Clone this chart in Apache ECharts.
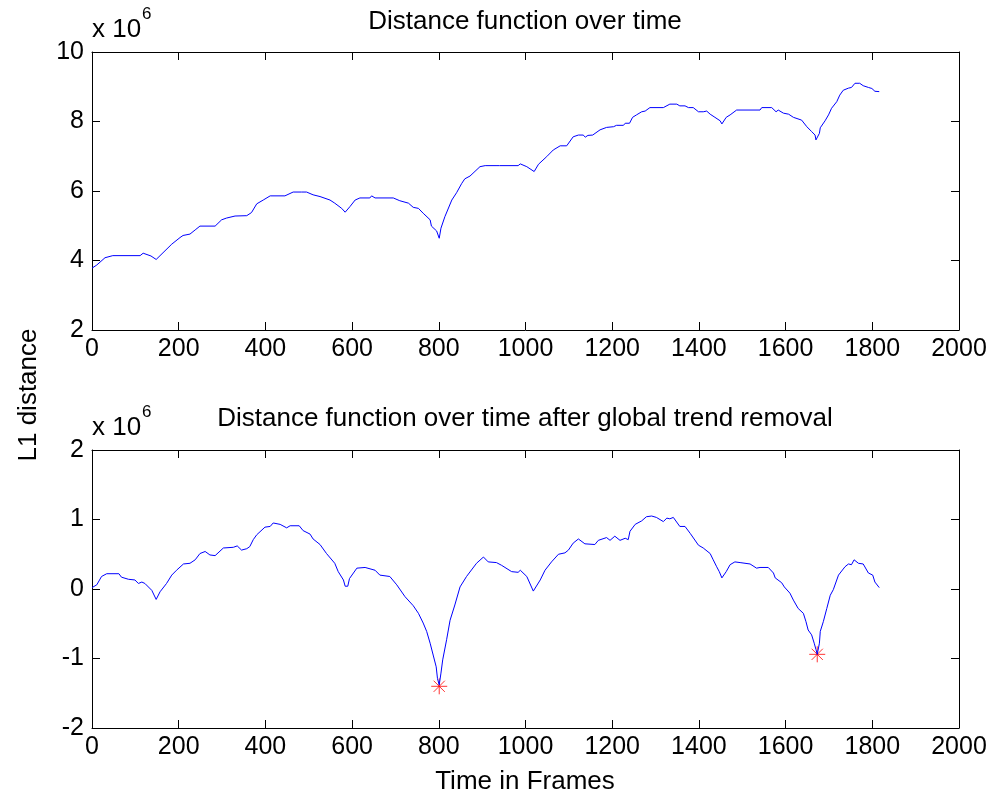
<!DOCTYPE html>
<html>
<head>
<meta charset="utf-8">
<title>Distance function</title>
<script src="https://cdn.jsdelivr.net/npm/echarts@6.0.0/dist/echarts.min.js"></script>
<style>
  html, body { margin: 0; padding: 0; background: #fff; }
  #container { width: 999px; height: 795px; }
</style>
</head>
<body>
<div id="container"></div>
<script>
// values in units of 10^6
var xTicks = [0, 200, 400, 600, 800, 1000, 1200, 1400, 1600, 1800, 2000];
var topYTicks = [2, 4, 6, 8, 10];
var bottomYTicks = [-2, -1, 0, 1, 2];

var topFrames = [0,11,30,48,111,118,136,148,184,203,210,226,238,249,284,299,310,330,357,368,380,395,411,445,464,483,487,495,510,526,549,560,576,584,595,607,618,641,645,653,695,710,730,741,753,764,780,783,795,801,805,814,830,841,853,860,872,895,907,932,935,940,983,988,1003,1020,1030,1049,1064,1080,1095,1110,1122,1133,1138,1144,1155,1172,1187,1203,1210,1226,1230,1240,1247,1256,1268,1276,1287,1318,1333,1349,1356,1368,1376,1387,1399,1410,1418,1426,1437,1449,1453,1463,1472,1487,1541,1545,1568,1578,1583,1595,1607,1618,1637,1649,1660,1668,1670,1678,1680,1691,1699,1706,1718,1725,1733,1745,1752,1760,1771,1779,1791,1799,1806,1816];
var topDist = [3.78,3.87,4.08,4.14,4.14,4.21,4.13,4.03,4.47,4.66,4.72,4.76,4.88,4.99,4.99,5.17,5.22,5.28,5.29,5.38,5.63,5.74,5.86,5.86,5.97,5.97,5.94,5.97,5.89,5.84,5.74,5.65,5.50,5.39,5.55,5.74,5.80,5.80,5.86,5.80,5.80,5.72,5.65,5.53,5.50,5.36,5.17,4.99,4.85,4.64,4.93,5.26,5.74,5.95,6.22,6.35,6.43,6.70,6.73,6.73,6.77,6.73,6.73,6.78,6.70,6.56,6.77,6.99,7.18,7.30,7.30,7.56,7.61,7.61,7.55,7.60,7.61,7.76,7.83,7.85,7.89,7.89,7.95,7.95,8.12,8.19,8.28,8.30,8.40,8.40,8.50,8.50,8.45,8.45,8.40,8.40,8.28,8.28,8.30,8.21,8.12,8.02,7.93,8.12,8.19,8.33,8.33,8.40,8.40,8.28,8.33,8.24,8.21,8.12,8.04,7.85,7.71,7.61,7.47,7.66,7.82,8.02,8.19,8.38,8.57,8.76,8.90,8.96,8.98,9.10,9.10,9.03,8.98,8.95,8.87,8.86];

var bottomFrames = [0,11,22,34,62,68,84,99,107,115,122,138,148,157,172,184,195,211,226,238,249,261,272,284,303,326,330,335,345,357,364,372,380,399,411,418,434,449,457,478,487,503,510,526,541,560,568,580,584,590,594,611,630,653,664,687,703,722,741,753,764,772,780,787,794,797,801,805,809,818,826,837,849,864,887,903,914,933,945,968,983,988,1003,1018,1034,1045,1060,1076,1091,1099,1110,1122,1137,1160,1168,1187,1195,1206,1218,1230,1237,1241,1253,1268,1279,1291,1302,1318,1326,1333,1341,1356,1368,1380,1399,1410,1426,1433,1441,1447,1453,1463,1472,1483,1495,1518,1533,1541,1560,1572,1576,1591,1597,1610,1618,1629,1641,1647,1652,1660,1666,1670,1673,1678,1680,1687,1695,1703,1710,1722,1737,1745,1752,1758,1768,1779,1791,1801,1806,1816];
var bottomDist = [0.02,0.06,0.18,0.22,0.22,0.17,0.14,0.13,0.08,0.10,0.08,-0.02,-0.15,-0.04,0.08,0.20,0.27,0.36,0.37,0.42,0.51,0.54,0.49,0.48,0.59,0.60,0.58,0.62,0.56,0.58,0.61,0.71,0.78,0.89,0.90,0.95,0.93,0.88,0.91,0.91,0.84,0.79,0.72,0.64,0.51,0.37,0.25,0.13,0.04,0.04,0.15,0.30,0.31,0.27,0.20,0.18,0.06,-0.11,-0.24,-0.35,-0.49,-0.61,-0.78,-0.95,-1.12,-1.29,-1.38,-1.21,-1.02,-0.73,-0.45,-0.23,0.03,0.18,0.37,0.46,0.39,0.38,0.34,0.25,0.24,0.27,0.18,-0.03,0.13,0.27,0.39,0.50,0.52,0.56,0.66,0.72,0.65,0.64,0.70,0.74,0.70,0.76,0.70,0.73,0.71,0.83,0.93,0.98,1.04,1.05,1.03,0.97,1.02,1.01,1.03,0.90,0.90,0.80,0.63,0.59,0.51,0.42,0.32,0.25,0.16,0.25,0.35,0.39,0.38,0.36,0.30,0.31,0.31,0.23,0.16,0.09,0.03,-0.06,-0.16,-0.28,-0.35,-0.47,-0.59,-0.66,-0.78,-0.87,-0.94,-0.78,-0.61,-0.47,-0.28,-0.09,-0.01,0.20,0.32,0.36,0.35,0.42,0.37,0.36,0.23,0.20,0.10,0.02];

var minFrames = [801, 1673];
var minDist = [-1.40, -0.94];

function zip(a, b) {
    var out = [];
    for (var i = 0; i < a.length; i++) out.push([a[i], b[i]]);
    return out;
}

var font = 'Liberation Sans, Arial, sans-serif';
var fs = 25;   // tick labels
var tfs = 26;  // titles / axis names
var star = 'path://M0,-10L0,10M-10,0L10,0M-7,-7L7,7M-7,7L7,-7';

function plain(v) { return String(v); }

function xAx(gi, pos, labels) {
    return {
        type: 'value', gridIndex: gi, position: pos,
        min: xTicks[0], max: xTicks[xTicks.length - 1], interval: xTicks[1] - xTicks[0],
        axisLine: { show: true, onZero: false, lineStyle: { color: '#000', width: 1 } },
        axisTick: { show: true, inside: true, length: 8, lineStyle: { color: '#000', width: 1 } },
        splitLine: { show: false },
        axisLabel: { show: labels, color: '#000', fontSize: fs, fontFamily: font, margin: 7, formatter: plain }
    };
}
function yAx(gi, pos, labels, ticks) {
    return {
        type: 'value', gridIndex: gi, position: pos,
        min: ticks[0], max: ticks[ticks.length - 1], interval: ticks[1] - ticks[0],
        axisLine: { show: true, onZero: false, lineStyle: { color: '#000', width: 1 } },
        axisTick: { show: true, inside: true, length: 8, lineStyle: { color: '#000', width: 1 } },
        splitLine: { show: false },
        axisLabel: { show: labels, color: '#000', fontSize: fs, fontFamily: font, margin: 8, formatter: plain }
    };
}

var dom = document.getElementById('container');
var myChart = echarts.init(dom, null, { renderer: 'canvas' });

var option = {
    backgroundColor: '#fff',
    animation: false,
    grid: [
        { left: 92, top: 52, width: 867, height: 278 },
        { left: 92, top: 450, width: 867, height: 278 }
    ],
    xAxis: [xAx(0, 'bottom', true), xAx(0, 'top', false), xAx(1, 'bottom', true), xAx(1, 'top', false)],
    yAxis: [yAx(0, 'left', true, topYTicks), yAx(0, 'right', false, topYTicks),
            yAx(1, 'left', true, bottomYTicks), yAx(1, 'right', false, bottomYTicks)],
    series: [
        {
            type: 'line', xAxisIndex: 0, yAxisIndex: 0, data: zip(topFrames, topDist),
            showSymbol: false, lineStyle: { color: '#0000ff', width: 1 }
        },
        {
            type: 'line', xAxisIndex: 2, yAxisIndex: 2, data: zip(bottomFrames, bottomDist),
            showSymbol: false, lineStyle: { color: '#0000ff', width: 1 }
        },
        {
            type: 'scatter', xAxisIndex: 2, yAxisIndex: 2, data: zip(minFrames, minDist),
            symbol: star, symbolSize: 16,
            itemStyle: { color: 'transparent', borderColor: '#ff0000', borderWidth: 1 }
        }
    ],
    graphic: [
        { type: 'text', x: 525, y: 22, style: { text: 'Distance function over time', fill: '#000', font: tfs + 'px ' + font, textAlign: 'center', textVerticalAlign: 'middle' } },
        { type: 'text', x: 525, y: 419, style: { text: 'Distance function over time after global trend removal', fill: '#000', font: tfs + 'px ' + font, textAlign: 'center', textVerticalAlign: 'middle' } },
        { type: 'text', x: 525, y: 782, style: { text: 'Time in Frames', fill: '#000', font: tfs + 'px ' + font, textAlign: 'center', textVerticalAlign: 'middle' } },
        { type: 'text', x: 29, y: 395, rotation: Math.PI / 2, style: { text: 'L1 distance', fill: '#000', font: tfs + 'px ' + font, textAlign: 'center', textVerticalAlign: 'middle' } },
        { type: 'text', x: 92, y: 30, style: { text: 'x 10', fill: '#000', font: tfs + 'px ' + font, textAlign: 'left', textVerticalAlign: 'middle' } },
        { type: 'text', x: 142, y: 14, style: { text: '6', fill: '#000', font: '17px ' + font, textAlign: 'left', textVerticalAlign: 'middle' } },
        { type: 'text', x: 92, y: 428, style: { text: 'x 10', fill: '#000', font: tfs + 'px ' + font, textAlign: 'left', textVerticalAlign: 'middle' } },
        { type: 'text', x: 142, y: 412, style: { text: '6', fill: '#000', font: '17px ' + font, textAlign: 'left', textVerticalAlign: 'middle' } }
    ]
};

if (option && typeof option === 'object') {
    myChart.setOption(option);
}
window.addEventListener('resize', myChart.resize);
</script>
</body>
</html>
